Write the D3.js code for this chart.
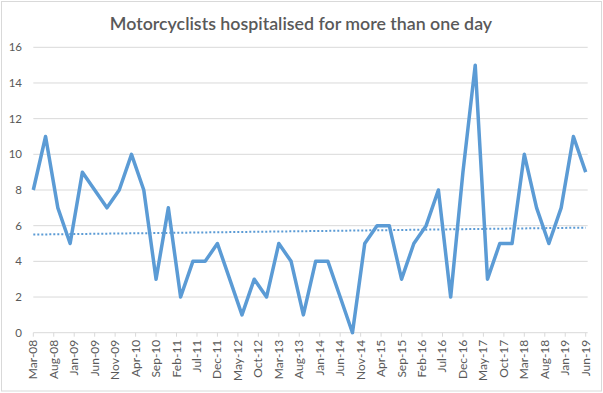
<!DOCTYPE html>
<html>
<head>
<meta charset="utf-8">
<script src="https://cdnjs.cloudflare.com/ajax/libs/d3/7.8.5/d3.min.js"></script>
<style>
  body { margin: 0; background: #fff; }
  svg { display: block; font-family: Lato, "Liberation Sans", sans-serif; }
</style>
</head>
<body>
<svg id="chart" width="603" height="393"></svg>
<script>
// quarterly observations, Mar-08 .. Jun-19
var startLabel = 'Mar-08';
var values = [8, 11, 7, 5, 9, 8, 7, 8, 10, 8, 3, 7, 2, 4, 4, 5, 3, 1, 3, 2, 5, 4, 1, 4, 4, 2, 0,
  5, 6, 6, 3, 5, 6, 8, 2, 9, 15, 3, 5, 5, 10, 7, 5, 7, 11, 9];
var monthStep = 3;            // months between points
var tickStepMonths = 5;       // axis label every 5 months
var yTicks = [0, 2, 4, 6, 8, 10, 12, 14, 16];
var title = 'Motorcyclists hospitalised for more than one day';

var monthNames = ['Jan', 'Feb', 'Mar', 'Apr', 'May', 'Jun', 'Jul', 'Aug', 'Sep', 'Oct', 'Nov', 'Dec'];

var svg = d3.select('#chart');
var margin = { left: 33.3, right: 17.3, top: 47.3, bottom: 60.3 };
var width = 603, height = 393;

var lastMonth = (values.length - 1) * monthStep;
var x = d3.scaleLinear()
  .domain([0, lastMonth])
  .range([margin.left, width - margin.right]);
var y = d3.scaleLinear()
  .domain([0, 16])
  .range([height - margin.bottom, margin.top]);

function monthLabel(m) {
  var start = monthNames.indexOf(startLabel.slice(0, 3));
  var yr = +startLabel.slice(4);
  var total = start + m;
  var yy = yr + Math.floor(total / 12);
  return monthNames[total % 12] + '-' + (yy < 10 ? '0' : '') + yy;
}

// chart border
svg.append('rect')
  .attr('x', 1.5).attr('y', 1.5)
  .attr('width', width - 3).attr('height', height - 3.5)
  .attr('fill', '#fff')
  .attr('stroke', '#d9d9d9');

// title
svg.append('text')
  .attr('x', 301)
  .attr('y', 30)
  .attr('text-anchor', 'middle')
  .attr('font-size', 17.8)
  .attr('font-weight', 600)
  .attr('fill', '#595959')
  .text(title);

// gridlines
var gridX2 = x(lastMonth) + 2;
svg.append('g').selectAll('line')
  .data(yTicks.filter(function(d) { return d > 0; }))
  .enter().append('line')
  .attr('x1', margin.left).attr('x2', gridX2)
  .attr('y1', function(d) { return y(d); })
  .attr('y2', function(d) { return y(d); })
  .attr('stroke', '#d9d9d9')
  .attr('stroke-width', 1);

// y labels
svg.append('g').selectAll('text')
  .data(yTicks)
  .enter().append('text')
  .attr('x', 22)
  .attr('y', function(d) { return y(d); })
  .attr('dy', '0.35em')
  .attr('text-anchor', 'end')
  .attr('font-size', 11.5)
  .attr('fill', '#595959')
  .text(function(d) { return d; });

// x axis line
svg.append('line')
  .attr('x1', margin.left).attr('x2', gridX2)
  .attr('y1', y(0)).attr('y2', y(0))
  .attr('stroke', '#d9d9d9');

var tickMonths = d3.range(0, lastMonth + 1, tickStepMonths);
svg.append('g').selectAll('line')
  .data(tickMonths)
  .enter().append('line')
  .attr('x1', function(d) { return x(d); })
  .attr('x2', function(d) { return x(d); })
  .attr('y1', y(0)).attr('y2', y(0) + 4)
  .attr('stroke', '#d9d9d9');

svg.append('g').selectAll('text')
  .data(tickMonths)
  .enter().append('text')
  .attr('transform', function(d) {
    return 'translate(' + (x(d) + 4) + ',' + (y(0) + 7) + ') rotate(-90)';
  })
  .attr('text-anchor', 'end')
  .attr('font-size', 12)
  .attr('fill', '#595959')
  .text(monthLabel);

// main series
var pts = values.map(function(v, i) { return { m: i * monthStep, v: v }; });
var line = d3.line()
  .x(function(d) { return x(d.m); })
  .y(function(d) { return y(d.v); });

svg.append('path')
  .datum(pts)
  .attr('d', line)
  .attr('fill', 'none')
  .attr('stroke', '#5b9bd5')
  .attr('stroke-width', 3.5)
  .attr('stroke-linejoin', 'round');

// linear trendline (least squares)
var mx = d3.mean(pts, function(d) { return d.m; });
var my = d3.mean(pts, function(d) { return d.v; });
var slope = d3.sum(pts, function(d) { return (d.m - mx) * (d.v - my); }) /
  d3.sum(pts, function(d) { return (d.m - mx) * (d.m - mx); });
var trend = [0, lastMonth].map(function(m) { return { m: m, v: my + slope * (m - mx) }; });

svg.append('path')
  .datum(trend)
  .attr('d', line)
  .attr('fill', 'none')
  .attr('stroke', '#5b9bd5')
  .attr('stroke-width', 2)
  .attr('stroke-dasharray', '2,2');
</script>
</body>
</html>
